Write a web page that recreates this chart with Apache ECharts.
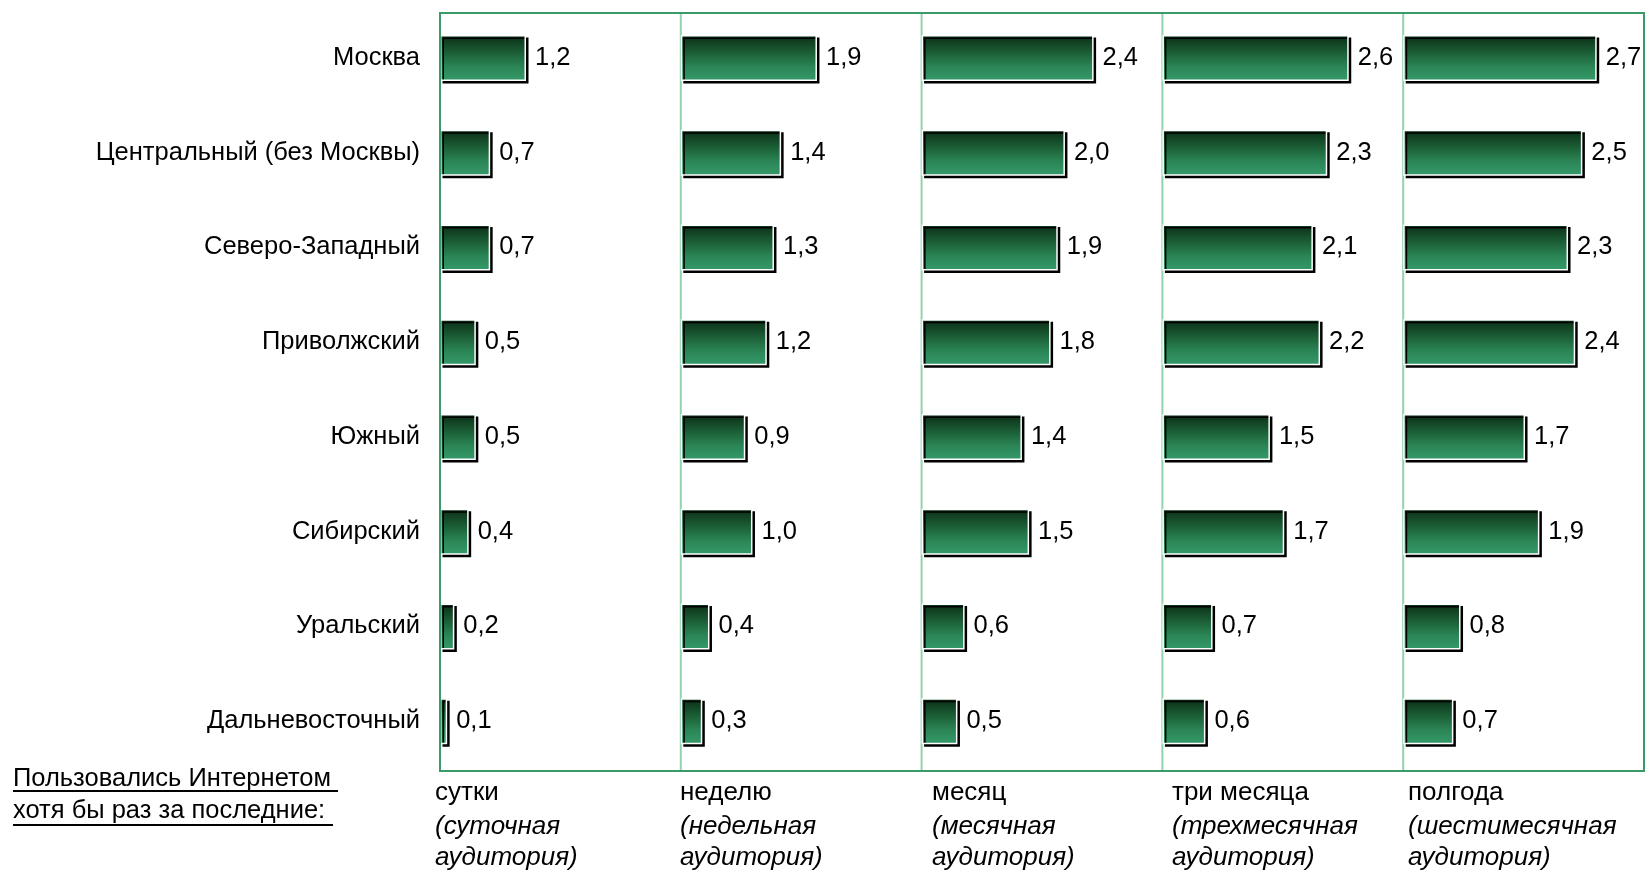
<!DOCTYPE html>
<html>
<head>
<meta charset="utf-8">
<script src="https://cdn.jsdelivr.net/npm/echarts@6/dist/echarts.min.js"></script>
<style>
html,body{margin:0;padding:0;background:#fff;}
#chart{width:1645px;height:873px;}
</style>
</head>
<body>
<div id="chart"></div>
<script>
const categories = ['Москва','Центральный (без Москвы)','Северо-Западный','Приволжский','Южный','Сибирский','Уральский','Дальневосточный'];
const periods = ['сутки','неделю','месяц','три месяца','полгода'];
const audienceLine1 = ['(суточная','(недельная','(месячная','(трехмесячная','(шестимесячная'];
const audienceLine2 = ['аудитория)','аудитория)','аудитория)','аудитория)','аудитория)'];
const dayValues = [1.2,0.7,0.7,0.5,0.5,0.4,0.2,0.1];
const weekValues = [1.9,1.4,1.3,1.2,0.9,1.0,0.4,0.3];
const monthValues = [2.4,2.0,1.9,1.8,1.4,1.5,0.6,0.5];
const threeMonthValues = [2.6,2.3,2.1,2.2,1.5,1.7,0.7,0.6];
const halfYearValues = [2.7,2.5,2.3,2.4,1.7,1.9,0.8,0.7];
const footnoteLines = ['Пользовались Интернетом ','хотя бы раз за последние:'];

const seriesValues = [dayValues, weekValues, monthValues, threeMonthValues, halfYearValues];

const FONT = '"Liberation Sans", Arial, sans-serif';
const plotLeft = 440, plotTop = 13, plotRight = 1644, plotBottom = 771;
const panelW = (plotRight - plotLeft) / 5;
const xMax = 3.36;
const captionX = [435, 680, 932, 1172, 1408];

const barGradient = {
  type: 'linear', x: 0, y: 0, x2: 0, y2: 1,
  colorStops: [
    {offset: 0, color: '#0a2c15'},
    {offset: 0.35, color: '#1a5a33'},
    {offset: 0.7, color: '#2b8656'},
    {offset: 1, color: '#35996a'}
  ]
};

const grids = [], xAxes = [], yAxes = [], series = [], graphics = [];
for (let i = 0; i < 5; i++) {
  const left = plotLeft + i * panelW;
  grids.push({left: left, top: plotTop - 2.5, width: panelW, height: plotBottom - plotTop, containLabel: false});
  xAxes.push({type: 'value', gridIndex: i, min: 0, max: xMax, show: false});
  yAxes.push({
    type: 'category', gridIndex: i, data: categories, inverse: true,
    axisLine: {show: false},
    axisTick: {show: false},
    axisLabel: {show: i === 0, fontSize: 25.5, color: '#000', fontFamily: FONT, margin: 20, padding: [6, 0, 0, 0]},
    splitLine: {show: false}
  });
  series.push({
    type: 'bar', xAxisIndex: i, yAxisIndex: i, data: seriesValues[i],
    barWidth: 46,
    itemStyle: {
      color: barGradient, borderColor: '#ffffff', borderWidth: 1.5,
      shadowColor: '#000', shadowOffsetX: 2.5, shadowOffsetY: 2.5, shadowBlur: 0
    },
    label: {
      show: true, position: 'right', distance: 9, fontSize: 25.5, color: '#000', fontFamily: FONT,
      padding: [4, 0, 0, 0],
      formatter: p => p.value.toFixed(1).replace('.', ',')
    },
    emphasis: {disabled: true},
    animation: false
  });
  if (i > 0) {
    graphics.push({type: 'line', z: 0, silent: true,
      shape: {x1: left, y1: plotTop, x2: left, y2: plotBottom},
      style: {stroke: '#93d2ae', lineWidth: 2}});
  }
  const tx = captionX[i];
  graphics.push({type: 'text', left: tx, top: 780, z: 10,
    style: {text: periods[i], font: '26px ' + FONT, fill: '#000'}});
  graphics.push({type: 'text', left: tx, top: 814, z: 10,
    style: {text: audienceLine1[i], font: 'italic 26px ' + FONT, fill: '#000'}});
  graphics.push({type: 'text', left: tx, top: 845, z: 10,
    style: {text: audienceLine2[i], font: 'italic 26px ' + FONT, fill: '#000'}});
}

// outer frame
graphics.push({type: 'rect', z: 100, silent: true,
  shape: {x: plotLeft, y: plotTop, width: plotRight - plotLeft, height: plotBottom - plotTop},
  style: {fill: null, stroke: '#3a9b68', lineWidth: 2}});

// footnote with underlines
graphics.push({type: 'text', left: 13, top: 766, z: 10,
  style: {text: footnoteLines[0], font: '25.5px ' + FONT, fill: '#000'}});
graphics.push({type: 'text', left: 13, top: 798, z: 10,
  style: {text: footnoteLines[1], font: '25.5px ' + FONT, fill: '#000'}});
graphics.push({type: 'line', z: 10, shape: {x1: 13, y1: 791, x2: 338, y2: 791}, style: {stroke: '#000', lineWidth: 2}});
graphics.push({type: 'line', z: 10, shape: {x1: 13, y1: 825, x2: 333, y2: 825}, style: {stroke: '#000', lineWidth: 2}});

const chart = echarts.init(document.getElementById('chart'), null, {renderer: 'canvas'});
chart.setOption({
  animation: false,
  backgroundColor: '#fff',
  grid: grids, xAxis: xAxes, yAxis: yAxes, series: series, graphic: graphics
});
</script>
</body>
</html>
